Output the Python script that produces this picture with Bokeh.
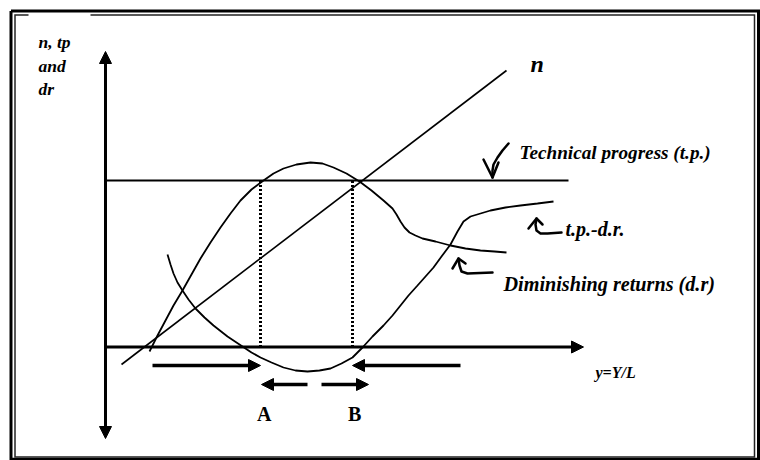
from bokeh.plotting import figure
from bokeh.models import Range1d, Arrow, NormalHead, Label
from bokeh.embed import file_html
from bokeh.resources import INLINE

# ---------------- data (diagram units: horizontal = y=Y/L, vertical = n, tp, dr) -------------
# population growth line n
n_x = [1.6, 40.1]
n_y = [-1.75, 27.65]

# technical progress level (horizontal)
tp_x = [0.0, 46.3]
tp_y = [16.65, 16.65]

# hump-shaped curve (tends to diminishing returns)
dr_x = [4.4, 5.2, 6.0, 6.8, 7.7, 8.6, 9.5, 10.5, 11.5, 12.5, 13.5, 14.6, 15.8, 16.8, 17.8,
        19.1, 20.5, 21.7, 22.8, 24.1, 25.4, 26.6, 27.8, 28.7, 29.1, 29.5, 29.9, 30.4, 31.0,
        31.7, 33.0, 34.5, 36.0, 37.5, 38.9, 40.1]
dr_y = [-0.45, 1.15, 2.65, 4.15, 5.65, 7.25, 8.85, 10.45, 11.95, 13.35, 14.65, 15.75, 16.65,
        17.35, 17.85, 18.25, 18.45, 18.35, 17.95, 17.35, 16.55, 15.65, 14.65, 13.85, 13.25,
        12.55, 11.95, 11.45, 11.15, 10.85, 10.55, 10.15, 9.85, 9.65, 9.55, 9.45]

# U-shaped curve t.p.-d.r.
tpdr_x = [6.2, 6.5, 6.8, 7.2, 7.7, 8.3, 9.0, 9.9, 10.8, 12.2, 13.7, 14.6, 15.5, 16.6, 17.8,
          19.0, 20.2, 21.4, 22.5, 23.6, 24.7, 25.2, 25.7, 26.7, 27.8, 28.7, 29.5, 30.3, 31.2,
          32.0, 32.8, 33.6, 34.5, 35.2, 35.8, 36.5, 37.5, 38.5, 40.0, 41.5, 43.2, 44.8]
tpdr_y = [9.25, 8.25, 7.35, 6.45, 5.65, 4.75, 3.85, 2.95, 2.15, 1.05, 0.05, -0.55, -1.05,
          -1.55, -2.05, -2.35, -2.45, -2.35, -2.15, -1.65, -1.05, -0.55, -0.05, 1.05, 2.15,
          3.15, 4.15, 5.15, 6.15, 7.05, 7.95, 9.05, 10.25, 11.55, 12.55, 13.05, 13.35, 13.65,
          13.95, 14.15, 14.35, 14.55]

# equilibrium points A (stable) and B (unstable)
eq_names = ["A", "B"]
eq_x = [15.5, 24.7]
eq_base = [0.0, 0.0]
eq_top = [16.65, 16.65]
eq_label_x = [15.15, 24.25]

# axes extents
v_axis = dict(x=0.0, y_bottom=-9.15, y_top=29.55)
h_axis = dict(y=0.0, x_left=0.0, x_right=47.8)

# movement arrows (start x, end x, level)
big_arrows = [(4.7, 15.5, -1.85), (35.5, 24.7, -1.85)]
small_arrows = [(20.2, 15.6, -3.75), (21.6, 26.3, -3.75)]

# pointer hooks (hand drawn)
hook_tp_x = [40.3, 39.7, 39.2, 38.8, 38.7, 38.7]
hook_tp_y = [20.35, 19.65, 18.95, 18.25, 17.65, 16.95]
head_tp_x = [37.8, 38.7, 39.3]
head_tp_y = [18.75, 16.95, 18.45]

hook_tpdr_x = [45.6, 44.2, 43.5, 43.1, 43.0, 43.1]
hook_tpdr_y = [11.45, 11.35, 11.35, 11.65, 12.25, 12.85]
head_tpdr_x = [42.3, 43.1, 43.7]
head_tpdr_y = [11.85, 12.85, 12.25]

hook_dr_x = [38.7, 36.2, 35.6, 35.4, 35.3]
hook_dr_y = [7.45, 7.35, 7.55, 8.15, 8.85]
head_dr_x = [34.7, 35.3, 36.0]
head_dr_y = [7.85, 8.85, 8.35]

# double frame (inner line broken behind the vertical-axis title)
outer_frame_x = [-9.45, 65.3, 65.3, -9.45, -9.45]
outer_frame_y = [33.6, 33.6, -11.22, -11.22, 33.6]
inner_frame_x = [-1.5, 64.9, 64.9, -9.05, -9.05, -7.7]
inner_frame_y = [33.2, 33.2, -11.0, -11.0, 33.2, 33.2]

# texts: (text, x, y, size, style)
texts = [
    ("n, tp", -6.7, 30.55, "17.5px", "bold italic"),
    ("and", -6.7, 28.15, "17.5px", "bold italic"),
    ("dr", -6.7, 25.85, "17.5px", "bold italic"),
    ("n", 42.5, 28.35, "24px", "bold italic"),
    ("Technical progress (t.p.)", 41.4, 19.45, "19.2px", "bold italic"),
    ("t.p.-d.r.", 46.0, 11.85, "20px", "bold italic"),
    ("Diminishing returns (d.r)", 39.8, 6.35, "20.2px", "bold italic"),
    ("y=Y/L", 49.0, -2.55, "16px", "bold italic"),
]

# ---------------- figure ----------------
p = figure(width=760, height=460, output_backend="svg", toolbar_location=None,
           x_range=Range1d(-10.5, 65.5), y_range=Range1d(-11.35, 34.65),
           x_axis_location=None, y_axis_location=None, min_border=0)
p.grid.visible = False
p.outline_line_color = None
p.background_fill_color = "white"

FONT = "Liberation Serif"


def head():
    return NormalHead(size=12, fill_color="black", line_color="black", line_width=1)


# frame
p.line(outer_frame_x, outer_frame_y, line_color="black", line_width=3, line_join="miter")
p.line(inner_frame_x, inner_frame_y, line_color="#222222", line_width=1.5, line_join="miter")

# axes with arrowheads
p.add_layout(Arrow(start=head(), end=head(),
                   x_start=v_axis["x"], y_start=v_axis["y_bottom"],
                   x_end=v_axis["x"], y_end=v_axis["y_top"], line_width=3, line_color="black"))
p.add_layout(Arrow(end=head(),
                   x_start=h_axis["x_left"], y_start=h_axis["y"],
                   x_end=h_axis["x_right"], y_end=h_axis["y"], line_width=3.2, line_color="black"))

# curves
p.line(tp_x, tp_y, line_color="black", line_width=2)
p.line(n_x, n_y, line_color="black", line_width=1.6)
p.line(dr_x, dr_y, line_color="black", line_width=1.8)
p.line(tpdr_x, tpdr_y, line_color="black", line_width=1.8)

# dotted verticals at A and B
for ex, eb, et in zip(eq_x, eq_base, eq_top):
    p.line([ex, ex], [eb, et], line_color="black", line_width=3, line_dash="2 2")

# movement arrows
for xs, xe, yy in big_arrows + small_arrows:
    p.add_layout(Arrow(end=head(), x_start=xs, y_start=yy, x_end=xe, y_end=yy,
                       line_width=3.5, line_color="black"))

# pointer hooks
for hx, hy in [(hook_tp_x, hook_tp_y), (head_tp_x, head_tp_y),
               (hook_tpdr_x, hook_tpdr_y), (head_tpdr_x, head_tpdr_y),
               (hook_dr_x, hook_dr_y), (head_dr_x, head_dr_y)]:
    p.line(hx, hy, line_color="black", line_width=2.5, line_join="round", line_cap="round")

# texts
for t, x, y, size, style in texts:
    p.add_layout(Label(x=x, y=y, text=t, text_font=FONT, text_font_size=size,
                       text_font_style=style, text_color="black", text_baseline="alphabetic",
                       text_align="left"))
for name, lx in zip(eq_names, eq_label_x):
    p.add_layout(Label(x=lx, y=-6.65, text=name, text_font=FONT, text_font_size="20px",
                       text_font_style="bold", text_color="black", text_baseline="alphabetic",
                       text_align="left"))

open("out.html", "w").write(file_html(p, INLINE))
